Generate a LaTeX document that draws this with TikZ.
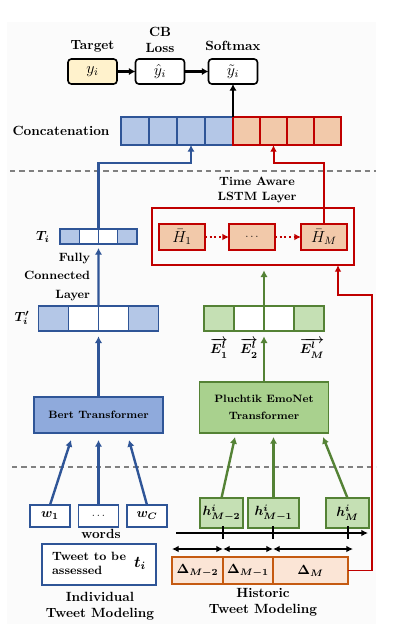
\documentclass[tikz,border=0pt]{standalone}
\usepackage{bm}
\usetikzlibrary{arrows.meta,calc}
\definecolor{bgc}{HTML}{FBFBFB}
\definecolor{bdraw}{HTML}{2F5597}
\definecolor{bfill}{HTML}{B4C7E7}
\definecolor{bertc}{HTML}{8FAADC}
\definecolor{rdraw}{HTML}{C00000}
\definecolor{rfill}{HTML}{F2C9AA}
\definecolor{gdraw}{HTML}{548235}
\definecolor{gfill}{HTML}{C5E0B4}
\definecolor{plc}{HTML}{A9D18E}
\definecolor{ddraw}{HTML}{C55A11}
\definecolor{dfill}{HTML}{FBE5D6}
\definecolor{yfill}{HTML}{FFF2CC}
\begin{document}
\begin{tikzpicture}[x=0.75pt,y=-0.75pt,
  every node/.style={inner sep=0pt, outer sep=0pt},
  topbox/.style={draw=black, line width=1.2pt, rounded corners=2.5pt, minimum width=36.75pt, minimum height=18.75pt},
  lbl/.style={font=\bfseries, align=center},
  bcell/.style={draw=bdraw, fill=bfill, line width=1.1pt},
  wbcell/.style={draw=bdraw, fill=white, line width=1.1pt},
  rcell/.style={draw=rdraw, fill=rfill, line width=1.1pt},
  gcell/.style={draw=gdraw, fill=gfill, line width=1.1pt},
  wgcell/.style={draw=gdraw, fill=white, line width=1.1pt},
  dcell/.style={draw=ddraw, fill=dfill, line width=1.1pt, minimum height=20.25pt},
  karrow/.style={line width=2pt, -{Latex[length=5pt,width=5.5pt]}},
  barrow/.style={draw=bdraw, line width=1.8pt, -{Latex[length=5pt,width=5.5pt]}},
  garrow/.style={draw=gdraw, line width=1.8pt, -{Latex[length=5pt,width=5.5pt]}},
  rarrow/.style={draw=rdraw, line width=1.5pt, -{Latex[length=5pt,width=5pt]}},
  sep/.style={draw=gray, line width=0.8pt, dash pattern=on 4pt off 3pt},
]
\useasboundingbox (0,0) rectangle (419,633);
\fill[bgc] (7,22) rectangle (376,624);

% separators
\draw[sep] (10,171) -- (376,171);
\draw[sep] (12,467) -- (376,467);

% top row
\node[topbox, fill=yfill, font=\large] (tgt) at (92.5,71.5) {$y_i$};
\node[topbox, fill=white, font=\large] (cb) at (160,71.5) {$\hat{y}_i$};
\node[topbox, fill=white, font=\large] (sm) at (233,71.5) {$\tilde{y}_i$};
\node[lbl] (ltgt) at (92.5,46) {Target};
\node[lbl] (lcb) at (160,40) {CB\\Loss};
\node[lbl] (lsm) at (233,46) {Softmax};
\draw[karrow] (tgt.east) -- (cb.west);
\draw[karrow] (cb.east) -- (sm.west);

% concatenation
\node[lbl] (lcat) at (61,131) {Concatenation};
\node[bcell, minimum width=21pt, minimum height=21pt] (c1) at (135,131) {};
\node[bcell, minimum width=21pt, minimum height=21pt] (c2) at (163,131) {};
\node[bcell, minimum width=21pt, minimum height=21pt] (c3) at (191,131) {};
\node[bcell, minimum width=21pt, minimum height=21pt] (c4) at (219,131) {};
\node[rcell, minimum width=20.25pt, minimum height=21pt] (r1) at (246.5,131) {};
\node[rcell, minimum width=20.25pt, minimum height=21pt] (r2) at (273.5,131) {};
\node[rcell, minimum width=20.25pt, minimum height=21pt] (r3) at (300.5,131) {};
\node[rcell, minimum width=20.25pt, minimum height=21pt] (r4) at (327.5,131) {};
\draw[karrow] (c4.north east) -- (sm.south);

\coordinate (yb) at (0,163);

% T_i
\node[bcell, minimum width=14.44pt, minimum height=11.25pt] (ti1) at (69.625,236.5) {};
\node[wbcell, minimum width=14.44pt, minimum height=11.25pt] (ti2) at (88.875,236.5) {};
\node[wbcell, minimum width=14.44pt, minimum height=11.25pt] (ti3) at (108.125,236.5) {};
\node[bcell, minimum width=14.44pt, minimum height=11.25pt] (ti4) at (127.375,236.5) {};
\node (lti) at (43,237) {$\bm{T_i}$};
\draw[barrow] (ti2.north east) -- (ti2.north east |- yb) -| (c3.south);

\node[font=\small\bfseries, align=right, anchor=east] (lfc) at (90,277) {Fully\\[3.2pt]Connected\\[3.2pt]Layer};

% T'_i
\node[bcell, minimum width=22.5pt, minimum height=18.75pt] (tp1) at (53.5,318.5) {};
\node[wbcell, minimum width=22.5pt, minimum height=18.75pt] (tp2) at (83.5,318.5) {};
\node[wbcell, minimum width=22.5pt, minimum height=18.75pt] (tp3) at (113.5,318.5) {};
\node[bcell, minimum width=22.5pt, minimum height=18.75pt] (tp4) at (143.5,318.5) {};
\node (ltp) at (22,318) {$\bm{T'_i}$};
\draw[barrow, shorten >=3pt] (tp2.north east) -- (ti2.south east);

% LSTM
\node[lbl, font=\small\bfseries] (llstm) at (257,190) {Time Aware\\LSTM Layer};
\node[draw=rdraw, line width=1.1pt, minimum width=151.5pt, minimum height=42.75pt] (lstm) at (253,236.5) {};
\node[rcell, minimum width=34.5pt, minimum height=19.5pt, font=\large] (h1) at (182,237) {$\bar{H}_1$};
\node[rcell, minimum width=34.5pt, minimum height=19.5pt, font=\footnotesize] (hd) at (252,237) {$\cdots$};
\node[rcell, minimum width=34.5pt, minimum height=19.5pt, font=\large] (hM) at (324,237) {$\bar{H}_M$};
\draw[draw=rdraw, line width=1.5pt, dotted, -{Latex[length=5pt,width=5pt]}] (h1.east) -- (hd.west);
\draw[draw=rdraw, line width=1.5pt, dotted, -{Latex[length=5pt,width=5pt]}] (hd.east) -- (hM.west);
\draw[rarrow] (hM.north) -- (hM.north |- yb) -| (r2.south);

% E vectors
\node[gcell, minimum width=22.5pt, minimum height=18.75pt] (e1) at (219,318.5) {};
\node[wgcell, minimum width=22.5pt, minimum height=18.75pt] (e2) at (249,318.5) {};
\node[wgcell, minimum width=22.5pt, minimum height=18.75pt] (e3) at (279,318.5) {};
\node[gcell, minimum width=22.5pt, minimum height=18.75pt] (e4) at (309,318.5) {};
\node (le1) at (219,348) {$\bm{\overrightarrow{E^{l}_{1}}}$};
\node (le2) at (249,348) {$\bm{\overrightarrow{E^{l}_{2}}}$};
\node (le3) at (312,348) {$\bm{\overrightarrow{E^{l}_{M}}}$};
\draw[garrow, shorten >=4pt] (e2.north east) -- (e2.north east |- lstm.south);

% transformers
\node[draw=bdraw, fill=bertc, line width=1.1pt, minimum width=96.75pt, minimum height=27pt, font=\footnotesize\bfseries] (bert) at (98.5,415) {Bert Transformer};
\node[draw=gdraw, fill=plc, line width=1.1pt, minimum width=96.75pt, minimum height=38.25pt, font=\footnotesize\bfseries, align=center] (pl) at (264,407.5) {Pluchtik EmoNet\\[3pt]Transformer};
\draw[barrow, shorten >=4pt] (bert.north) -- (tp2.south east);
\draw[garrow, shorten >=4pt] (pl.north) -- (pl.north |- e2.south);

% words
\node[wbcell, minimum width=30pt, minimum height=16.5pt] (w1) at (50,516) {$\bm{w_1}$};
\node[wbcell, minimum width=30pt, minimum height=16.5pt, font=\footnotesize] (wd) at (98.5,516) {$\cdots$};
\node[wbcell, minimum width=30pt, minimum height=16.5pt] (wC) at (147,516) {$\bm{w_C}$};
\coordinate (bi1) at (71,440);
\coordinate (bi2) at (98.5,440);
\coordinate (bi3) at (129,440);
\draw[barrow] (w1.north) -- (bi1);
\draw[barrow] (wd.north) -- (bi2);
\draw[barrow] (wC.north) -- (bi3);
\node[lbl] (lwords) at (101,534) {words};
\node[wbcell, minimum width=85.5pt, minimum height=30.75pt, font=\small\bfseries] (tw) at (99,564.5)
  {\begin{tabular}{@{}l@{}}Tweet to be\\assessed\end{tabular}\hspace{6pt}{\large$\bm{t_i}$}};
\node[lbl] (lind) at (100,606) {Individual\\Tweet Modeling};

% historic
\node[gcell, minimum width=32.25pt, minimum height=22.5pt] (hm2) at (221.5,513) {$\bm{h^{i}_{M-2}}$};
\node[gcell, minimum width=38.25pt, minimum height=22.5pt] (hm1) at (273.5,513) {$\bm{h^{i}_{M-1}}$};
\node[gcell, minimum width=32.25pt, minimum height=22.5pt] (hmM) at (347.5,513) {$\bm{h^{i}_{M}}$};
\coordinate (gi1) at (235,437);
\coordinate (gi2) at (273.5,437);
\coordinate (gi3) at (323,437);
\draw[garrow] (hm2.north) -- (gi1);
\draw[garrow] (hm1.north) -- (gi2);
\draw[garrow] (hmM.north) -- (gi3);

% timeline
\coordinate (ta) at (176,533);
\coordinate (tb) at (368,533);
\draw[line width=1.1pt, -{Latex[length=5pt,width=5pt]}] (ta) -- (tb);
\foreach \xx in {223,273,348} \draw[line width=1.1pt] (\xx,526) -- (\xx,539);

% deltas
\node[dcell, minimum width=38.25pt] (d1) at (197.5,570.5) {$\bm{\Delta_{M-2}}$};
\node[dcell, minimum width=37.5pt] (d2) at (248,570.5) {$\bm{\Delta_{M-1}}$};
\node[dcell, minimum width=56.25pt] (d3) at (310.5,570.5) {$\bm{\Delta_{M}}$};
\draw[line width=1.1pt, {Latex[length=5pt,width=5pt]}-{Latex[length=5pt,width=5pt]}] ($(d1.north west)+(0,-8)$) -- ($(d1.north east)+(0,-8)$);
\draw[line width=1.1pt, {Latex[length=5pt,width=5pt]}-{Latex[length=5pt,width=5pt]}] ($(d2.north west)+(0,-8)$) -- ($(d2.north east)+(0,-8)$);
\draw[line width=1.1pt, {Latex[length=5pt,width=5pt]}-{Latex[length=5pt,width=5pt]}] ($(d3.north west)+(0,-8)$) -- ($(d3.north east)+(5,-8)$);
\node[lbl] (lhist) at (263,602) {Historic\\Tweet Modeling};

% feedback
\coordinate (rr) at (372,295);
\coordinate (rl) at (338,265);
\draw[rarrow, line width=1.2pt] (d3.east) -| (rr) -| (rl);
\end{tikzpicture}
\end{document}
